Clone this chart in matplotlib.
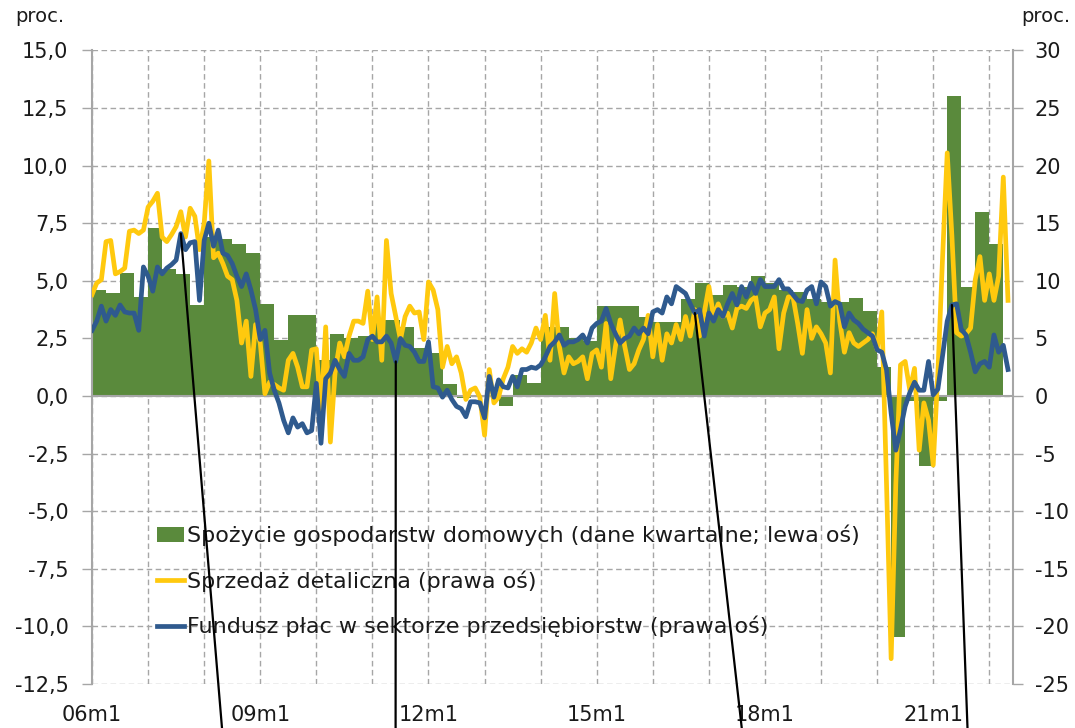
import matplotlib
matplotlib.use("Agg")
import matplotlib.pyplot as plt
from matplotlib.patches import Patch
from matplotlib.lines import Line2D
import numpy as np

plt.rcParams['font.family'] = ['DejaVu Sans']

# ---------------- data ----------------
start_year = 2006
# household consumption y/y (quarterly, left axis), 2006Q1 .. 2022Q1
consumption_q = [
    4.6, 4.45, 5.35, 4.3,
    7.3, 5.5, 5.3, 3.95,
    6.9, 6.8, 6.6, 6.2,
    4.0, 2.45, 3.5, 3.5,
    1.55, 2.7, 2.5, 2.6,
    3.3, 3.3, 3.0, 2.1,
    1.85, 0.5, -0.1, 0.0,
    0.05, -0.45, 0.9, 0.55,
    3.0, 3.0, 2.5, 2.4,
    3.9, 3.9, 3.9, 3.45,
    3.2, 3.2, 4.2, 4.9,
    4.4, 4.8, 4.75, 5.2,
    4.9, 4.6, 4.5, 4.2,
    4.1, 4.1, 4.25, 3.7,
    1.25, -10.45, -0.2, -3.05,
    -0.2, 13.0, 4.75, 8.0,
    6.6,
]

# retail sales y/y (monthly, right axis), 2006m1 .. 2022m5
retail_m = [
    8.8, 9.8, 10.1, 13.4, 13.5, 10.6, 10.8, 11.1, 14.3, 14.4, 14.1, 14.4,
    16.4, 16.9, 17.6, 13.8, 13.4, 14.0, 14.7, 16.0, 13.8, 16.3, 15.6, 12.7,
    15.0, 20.4, 12.0, 12.4, 11.5, 10.4, 10.1, 8.3, 4.6, 6.5, 1.7, 6.2,
    4.6, 0.2, 1.2, 1.0, 0.7, 0.5, 3.1, 3.7, 2.5, 0.8, 0.8, 4.0,
    4.1, -1.5, 6.0, -4.0, 2.0, 4.6, 3.4, 5.2, 6.5, 6.5, 6.3, 9.1,
    4.9, 8.6, 3.1, 13.5, 8.9, 6.9, 4.9, 6.9, 7.8, 7.2, 7.3, 4.9,
    9.9, 9.2, 7.5, 2.5, 4.3, 2.8, 3.4, 2.0, -0.3, 0.5, 0.7, -0.1,
    -3.4, 2.3, -0.6, -0.1, 1.5, 2.5, 4.3, 3.7, 4.1, 3.8, 4.6, 5.9,
    4.9, 7.0, 3.1, 8.9, 4.3, 2.0, 3.4, 2.8, 3.0, 3.4, 1.5, 3.7,
    4.0, 2.5, 6.3, 1.5, 4.3, 6.6, 4.3, 2.3, 2.8, 4.0, 4.9, 7.0,
    3.4, 6.2, 3.1, 5.4, 4.6, 6.2, 4.9, 6.9, 5.2, 7.5, 5.2, 7.2,
    9.5, 6.9, 8.0, 6.9, 7.2, 5.9, 7.6, 7.8, 7.6, 8.3, 8.6, 6.0,
    7.2, 7.5, 8.6, 4.1, 7.2, 8.6, 8.6, 6.3, 3.7, 7.5, 5.0, 6.0,
    5.4, 4.6, 2.0, 11.8, 6.5, 3.8, 5.5, 4.6, 4.3, 4.6, 4.9, 5.4,
    4.0, 7.3, -7.5, -22.8, -7.6, 2.7, 3.0, 0.5, 2.4, -4.7, -0.6, -2.1,
    -6.0, 2.0, 12.0, 21.1, 13.9, 5.5, 5.2, 5.4, 5.9, 10.1, 12.1, 8.3,
    10.6, 8.3, 10.4, 19.0, 8.3,
]

# wage bill in enterprise sector y/y (monthly, right axis), 2006m1 .. 2022m5
wages_m = [
    5.7, 6.5, 7.8, 6.5, 7.5, 7.0, 7.9, 7.3, 7.2, 7.2, 5.7, 11.2,
    10.4, 9.1, 11.2, 10.6, 11.1, 11.4, 11.8, 14.1, 12.7, 13.3, 13.4, 8.3,
    13.5, 15.0, 13.0, 14.4, 12.4, 12.2, 11.5, 10.4, 9.5, 10.6, 9.2, 7.5,
    4.9, 5.7, 2.0, 0.5, -0.6, -2.1, -3.2, -1.9, -2.7, -2.4, -3.2, -3.0,
    1.1, -4.1, 1.5, 2.0, 3.1, 2.3, 1.7, 3.7, 3.1, 3.1, 3.4, 4.9,
    5.2, 4.7, 4.7, 5.2, 4.6, 3.0, 5.0, 4.4, 4.3, 3.8, 3.0, 3.0,
    4.7, 0.8, 0.7, -0.1, 0.5, -0.3, -0.9, -1.1, -1.8, -0.5, -0.5, -0.6,
    -1.9, 1.7, -0.1, 1.4, 0.8, 0.7, 1.7, 0.8, 2.3, 2.3, 2.5, 2.4,
    2.7, 3.4, 4.3, 4.7, 5.3, 4.4, 4.7, 4.7, 4.9, 5.3, 4.6, 5.9,
    6.3, 6.5, 7.6, 6.3, 5.4, 4.6, 5.0, 5.2, 5.9, 5.4, 5.9, 5.4,
    7.3, 7.5, 7.2, 8.6, 8.0, 9.5, 9.2, 8.9, 8.0, 7.2, 7.5, 5.2,
    7.2, 6.5, 7.5, 6.9, 8.0, 8.9, 7.9, 9.5, 8.6, 9.8, 8.9, 10.1,
    9.5, 9.5, 9.5, 10.1, 9.3, 9.3, 8.8, 8.3, 8.2, 9.2, 9.5, 8.0,
    9.9, 9.5, 7.8, 8.2, 8.0, 6.0, 7.2, 6.6, 6.3, 5.8, 5.5, 5.2,
    4.0, 3.8, 2.3, -1.5, -4.7, -2.9, -0.9, 0.3, 1.2, 0.5, 0.5, 3.0,
    0.1, 0.6, 3.5, 6.5, 7.9, 8.0, 5.8, 5.3, 3.8, 2.1, 2.8, 3.0,
    2.5, 5.3, 3.8, 4.4, 2.3,
]

labels = [
    "Spożycie gospodarstw domowych (dane kwartalne; lewa oś)",
    "Sprzedaż detaliczna (prawa oś)",
    "Fundusz płac w sektorze przedsiębiorstw (prawa oś)",
]
left_ticks = [-12.5, -10.0, -7.5, -5.0, -2.5, 0.0, 2.5, 5.0, 7.5, 10.0, 12.5, 15.0]
left_ticklabels = ["-12,5", "-10,0", "-7,5", "-5,0", "-2,5", "0,0", "2,5", "5,0",
                   "7,5", "10,0", "12,5", "15,0"]
right_ticks = [-25, -20, -15, -10, -5, 0, 5, 10, 15, 20, 25, 30]
x_label_years = [2006, 2009, 2012, 2015, 2018, 2021]
x_label_text = ["06m1", "09m1", "12m1", "15m1", "18m1", "21m1"]
# months (index from 2006m1) where leader lines touch the wage line
leader_months = [19, 65, 129, 184]

# ---------------- style ----------------
GREEN = '#5A8A3C'
YELLOW = '#FFC90E'
BLUE = '#2F5A8E'
GRID = '#A6A6A6'
TXT = '#1A1A1A'
FS = 15
LFS = 16

fig = plt.figure(figsize=(10.75, 7.28), dpi=100)
ax = fig.add_axes([0.0856, 0.0604, 0.8564, 0.8704])
ax2 = ax.twinx()

n_months = len(retail_m)
months = np.arange(n_months)
q_x = np.arange(len(consumption_q)) * 3

ax.bar(q_x, consumption_q, width=3, align='edge', color=GREEN, linewidth=0, zorder=2)
ax.axhline(0, color=GRID, lw=1.5, zorder=3)

ax2.plot(months, retail_m, color=YELLOW, lw=3.4, solid_joinstyle='round', zorder=3)
ax2.plot(months, wages_m, color=BLUE, lw=3.4, solid_joinstyle='round', zorder=4)

ax.set_xlim(0, 197)
ax.set_ylim(-12.5, 15)
ax2.set_ylim(-25, 30)

# grid
ax.set_axisbelow(True)
ax.set_yticks(left_ticks)
ax.set_yticklabels(left_ticklabels)
ax2.set_yticks(right_ticks)
ax2.set_yticklabels([str(v) for v in right_ticks])
year_ticks = np.arange(0, 197, 12)
ax.set_xticks(year_ticks)
lab_map = {(y - start_year) * 12: t for y, t in zip(x_label_years, x_label_text)}
ax.set_xticklabels([lab_map.get(t, "") for t in year_ticks])
ax.grid(True, color=GRID, lw=1.0, linestyle=(0, (4, 2.5)))

for a in (ax, ax2):
    for s in ('top', 'bottom', 'left', 'right'):
        a.spines[s].set_visible(False)
ax.spines['left'].set_visible(True)
ax.spines['left'].set_color(GRID)
ax.spines['left'].set_linewidth(1.5)
ax2.spines['right'].set_visible(True)
ax2.spines['right'].set_color(GRID)
ax2.spines['right'].set_linewidth(1.5)

ax.tick_params(axis='y', direction='out', length=7, width=1, color=GRID,
               labelsize=FS, labelcolor=TXT, pad=10)
ax2.tick_params(axis='y', direction='out', length=7, width=1, color=GRID,
                labelsize=FS, labelcolor=TXT, pad=9)
ax.tick_params(axis='x', length=0, labelsize=FS, labelcolor=TXT, pad=15)

fig.text(0.014, 0.977, "proc.", fontsize=14, color=TXT, ha='left', va='center')
fig.text(0.996, 0.977, "proc.", fontsize=14, color=TXT, ha='right', va='center')

handles = [Patch(facecolor=GREEN, edgecolor='none'),
           Line2D([], [], color=YELLOW, lw=3.4),
           Line2D([], [], color=BLUE, lw=3.4)]
leg = ax.legend(handles, labels, loc='upper left', bbox_to_anchor=(0.0705, 0.251),
                frameon=False, fontsize=LFS, handlelength=1.22, handleheight=0.63,
                handletextpad=0.12, labelspacing=1.08, borderpad=0, borderaxespad=0)
for t in leg.get_texts():
    t.set_color(TXT)

# leader lines going below the chart
bottom_x = [0.2065, 0.368, 0.690, 0.900]
for m, fx in zip(leader_months, bottom_x):
    ax2.annotate('', xy=(m, wages_m[m]), xycoords='data',
                 xytext=(fx, 0.0), textcoords='figure fraction',
                 arrowprops=dict(arrowstyle='-', color='black', lw=1.6,
                                 shrinkA=0, shrinkB=0), zorder=6)

fig.savefig("out.png", dpi=100)
